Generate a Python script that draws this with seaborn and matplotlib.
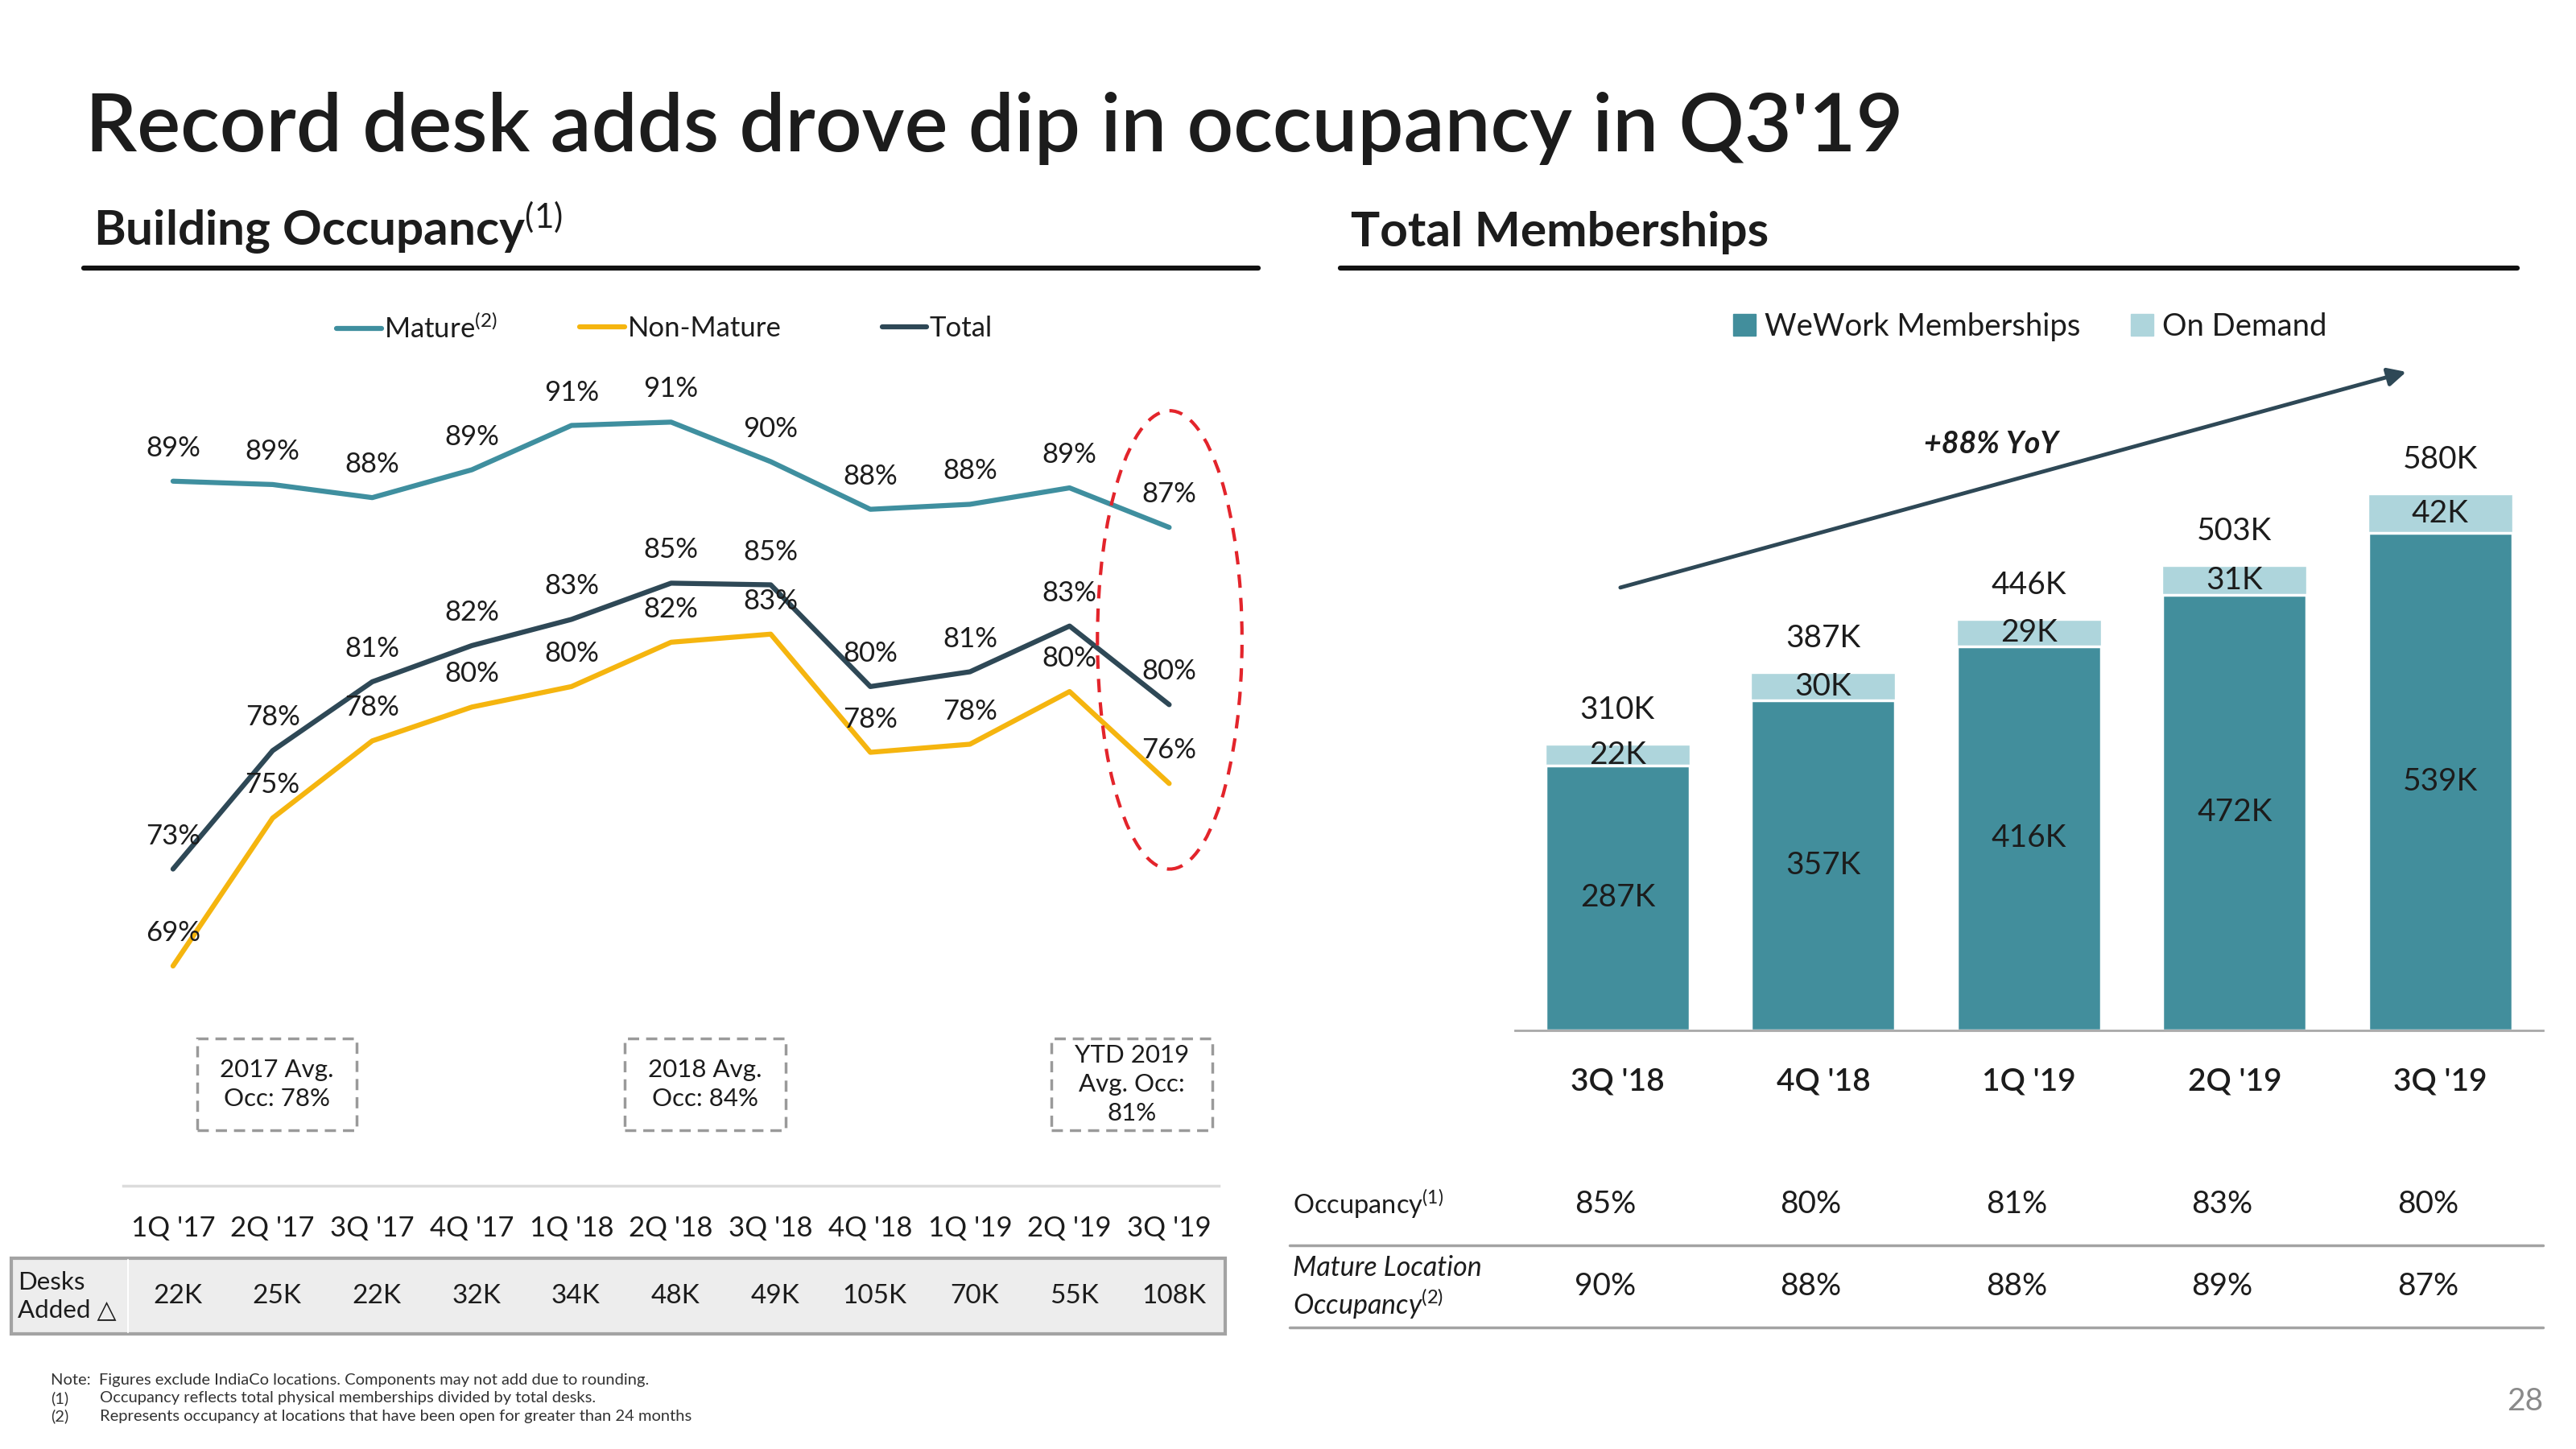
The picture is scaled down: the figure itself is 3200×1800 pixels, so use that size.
import numpy as np
import pandas as pd
import matplotlib
matplotlib.use("Agg")
import matplotlib.pyplot as plt
import seaborn as sns
from matplotlib.lines import Line2D
from matplotlib.patches import Patch, Rectangle, Ellipse, FancyArrowPatch
import matplotlib.transforms as mtrans

# ---------------- data ----------------
quarters = ["1Q '17", "2Q '17", "3Q '17", "4Q '17", "1Q '18", "2Q '18",
            "3Q '18", "4Q '18", "1Q '19", "2Q '19", "3Q '19"]
mature = [88.98, 88.84, 88.29, 89.46, 91.32, 91.46, 89.80, 87.80, 88.01, 88.70, 87.04]
non_mature = [68.63, 74.84, 78.08, 79.50, 80.36, 82.22, 82.56, 77.60, 77.94, 80.15, 76.29]
total = [72.70, 77.67, 80.56, 82.08, 83.18, 84.70, 84.63, 80.36, 80.98, 82.90, 79.60]
mature_lbl = [89, 89, 88, 89, 91, 91, 90, 88, 88, 89, 87]
non_mature_lbl = [69, 75, 78, 80, 80, 82, 83, 78, 78, 80, 76]
total_lbl = [73, 78, 81, 82, 83, 85, 85, 80, 81, 83, 80]
desks_added = ["22K", "25K", "22K", "32K", "34K", "48K", "49K", "105K", "70K", "55K", "108K"]
avg_texts = ["2017 Avg.\nOcc: 78%", "2018 Avg.\nOcc: 84%", "YTD 2019\nAvg. Occ:\n81%"]

bar_quarters = ["3Q '18", "4Q '18", "1Q '19", "2Q '19", "3Q '19"]
wework = [287, 357, 416, 472, 539]
on_demand = [22, 30, 29, 31, 42]
total_members = [310, 387, 446, 503, 580]
occupancy_row = ["85%", "80%", "81%", "83%", "80%"]
mature_row = ["90%", "88%", "88%", "89%", "87%"]

# ---------------- style ----------------
sns.set_theme(style="white")
plt.rcParams["font.family"] = ["Lato", "DejaVu Sans"]
plt.rcParams["mathtext.fontset"] = "custom"
plt.rcParams["mathtext.rm"] = "Lato"
plt.rcParams["mathtext.it"] = "Lato:italic"
plt.rcParams["mathtext.bf"] = "Lato:bold"
plt.rcParams["mathtext.default"] = "rm"

TXT = "#1c1c1c"
C_MAT = "#3f8f9f"
C_NON = "#f5b50f"
C_TOT = "#2e4856"
C_DARK = "#428e9c"
C_LIGHT = "#aed5dc"

W0, H0 = 1568.0, 882.0
def P(x, y):
    return (x / W0, 1 - y / H0)

fig = plt.figure(figsize=(32, 18), dpi=100)
fig.patch.set_facecolor("white")

# ---------------- titles ----------------
fig.text(*P(52, 92), "Record desk adds drove dip in occupancy in Q3'19", fontsize=73,
         fontweight="semibold", color=TXT, ha="left", va="baseline")
fig.text(*P(57, 150), "Building Occupancy$^{(1)}$", fontsize=43.5, fontweight="bold",
         color=TXT, ha="left", va="baseline")
fig.text(*P(822, 150), "Total Memberships", fontsize=43.5, fontweight="bold",
         color=TXT, ha="left", va="baseline")
for x0, x1 in [(51, 766), (816, 1532)]:
    fig.add_artist(Line2D([x0 / W0, x1 / W0], [1 - 163 / H0] * 2, color="#111111",
                          lw=4.5, transform=fig.transFigure))

# ---------------- line chart ----------------
ax1 = fig.add_axes([75 / W0, 1 - 722 / H0, (742 - 75) / W0, (722 - 175) / H0])
df = pd.DataFrame({
    "idx": list(range(11)) * 3,
    "value": mature + non_mature + total,
    "series": ["Mature"] * 11 + ["Non-Mature"] * 11 + ["Total"] * 11,
})
pal = {"Mature": C_MAT, "Non-Mature": C_NON, "Total": C_TOT}
sns.lineplot(data=df, x="idx", y="value", hue="series", palette=pal, lw=4.5,
             sort=False, legend=False, ax=ax1, solid_capstyle="round")
ax1.set_xlim(-0.5, 10.5)
ax1.set_ylim(59.39, 97.11)
for s in ["top", "left", "right"]:
    ax1.spines[s].set_visible(False)
ax1.spines["bottom"].set_color("#dcdcdc")
ax1.spines["bottom"].set_linewidth(2.5)
ax1.set_yticks([])
ax1.set_xticks(range(11))
ax1.set_xticklabels(quarters)
ax1.tick_params(axis="x", length=0, pad=26, labelsize=25, labelcolor=TXT)
ax1.set_xlabel("")
ax1.set_ylabel("")
for vals, lbls in [(mature, mature_lbl), (non_mature, non_mature_lbl), (total, total_lbl)]:
    for i, (v, l) in enumerate(zip(vals, lbls)):
        ax1.annotate(f"{l}%", (i, v), xytext=(0, 29.5), textcoords="offset points",
                     ha="center", va="center", fontsize=25, color=TXT)

# line legend (three separate entries)
for name, lab, xs in [("Mature", "Mature$^{(2)}$", 205), ("Non-Mature", "Non-Mature", 353),
                      ("Total", "Total", 537)]:
    h = Line2D([], [], color=pal[name], lw=4.5, solid_capstyle="round")
    fig.legend(handles=[h], labels=[lab], loc="center left", bbox_to_anchor=P(xs, 200),
               frameon=False, fontsize=25, handlelength=1.6, handletextpad=0.1,
               borderpad=0, borderaxespad=0, labelcolor=TXT)

# average boxes
for (bx0, bx1), t in zip([(120, 217), (380, 478), (640, 738)], avg_texts):
    fig.add_artist(Rectangle(P(bx0, 688), (bx1 - bx0) / W0, 56 / H0, fill=False,
                             ec="#9a9a9a", lw=2.5, ls=(0, (4, 2.5)),
                             transform=fig.transFigure))
    fig.text(*P((bx0 + bx1) / 2, 660), t, ha="center", va="center", fontsize=22.5,
             color=TXT, linespacing=1.35)

# red dashed ellipse
fig.add_artist(Ellipse(P(712, 389.5), 88 / W0, 279 / H0, fill=False, ec="#e3242b",
                       lw=3, ls=(0, (4, 3)), transform=fig.transFigure))

# desks added table
fig.add_artist(Rectangle(P(7, 812), (746 - 7) / W0, 46 / H0, fc="#ededed", ec="#a3a3a3",
                         lw=3, transform=fig.transFigure, zorder=0))
fig.add_artist(Line2D([78 / W0] * 2, [1 - 767 / H0, 1 - 811 / H0], color="white", lw=1.5,
                      transform=fig.transFigure))
fig.text(*P(11, 789), "Desks\nAdded △", ha="left", va="center", fontsize=22.5, color=TXT,
         linespacing=1.3)
blend1 = mtrans.blended_transform_factory(ax1.transData, fig.transFigure)
for i, d in enumerate(desks_added):
    ax1.annotate(d, (i, 1 - 789 / H0), xycoords=blend1, xytext=(4, 0),
                 textcoords="offset points", ha="center", va="center", fontsize=24,
                 color=TXT, annotation_clip=False)

# ---------------- bar chart ----------------
ax2 = fig.add_axes([922 / W0, 1 - 627 / H0, (1548 - 922) / W0, (627 - 180) / H0])
dfb = pd.DataFrame({"quarter": bar_quarters,
                    "stack_top": np.array(wework) + np.array(on_demand),
                    "wework": wework})
sns.barplot(data=dfb, x="quarter", y="stack_top", color=C_LIGHT, saturation=1,
            width=0.7, ax=ax2)
sns.barplot(data=dfb, x="quarter", y="wework", color=C_DARK, saturation=1, width=0.7,
            edgecolor="white", linewidth=2.5, ax=ax2)
ax2.set_xlim(-0.5, 4.5)
ax2.set_ylim(0, 796)
for s in ["top", "left", "right"]:
    ax2.spines[s].set_visible(False)
ax2.spines["bottom"].set_color("#a8a8a8")
ax2.spines["bottom"].set_linewidth(2)
ax2.set_yticks([])
ax2.set_xlabel("")
ax2.set_ylabel("")
ax2.tick_params(axis="x", length=0, pad=33, labelsize=28, labelcolor=TXT)
for lab in ax2.get_xticklabels():
    lab.set_fontweight("semibold")
for i in range(5):
    ax2.text(i, wework[i] / 2, f"{wework[i]}K", ha="center", va="center", fontsize=28,
             color=TXT)
    ax2.text(i, wework[i] + on_demand[i] / 2, f"{on_demand[i]}K", ha="center",
             va="center", fontsize=28, color=TXT)
    ax2.annotate(f"{total_members[i]}K", (i, wework[i] + on_demand[i]), xytext=(0, 31),
                 textcoords="offset points", ha="center", va="center", fontsize=28,
                 color=TXT)

fig.legend(handles=[Patch(color=C_DARK), Patch(color=C_LIGHT)],
           labels=["WeWork Memberships", "On Demand"], loc="center left",
           bbox_to_anchor=P(1055, 199), ncol=2, frameon=False, fontsize=27.5,
           handlelength=0.72, handleheight=0.72, handletextpad=0.3, columnspacing=1.65,
           borderpad=0, borderaxespad=0, labelcolor=TXT)

# growth arrow
fig.add_artist(FancyArrowPatch(
    P(985, 358), P(1466, 226), transform=fig.transFigure,
    arrowstyle="-|>,head_length=9,head_width=4.5",
    color=C_TOT, lw=3.5, mutation_scale=1.5))
fig.text(*P(1212, 270), "+88% YoY", ha="center", va="center", fontsize=27,
         fontweight="bold", fontstyle="italic", color=TXT)

# right table
blend2 = mtrans.blended_transform_factory(ax2.transData, fig.transFigure)
fig.text(*P(787, 733), "Occupancy$^{(1)}$", ha="left", va="center", fontsize=23.5, color=TXT)
fig.text(*P(787, 784), "Mature Location\nOccupancy$^{(2)}$", ha="left", va="center",
         fontsize=24.5, fontstyle="italic", color=TXT, linespacing=1.2)
for i in range(5):
    ax2.annotate(occupancy_row[i], (i, 1 - 733 / H0), xycoords=blend2, xytext=(-11, 0),
                 textcoords="offset points", ha="center", va="center", fontsize=28,
                 color=TXT, annotation_clip=False)
    ax2.annotate(mature_row[i], (i, 1 - 783 / H0), xycoords=blend2, xytext=(-11, 0),
                 textcoords="offset points", ha="center", va="center", fontsize=28,
                 color=TXT, annotation_clip=False)
for yy in [758, 808]:
    fig.add_artist(Line2D([785 / W0, 1548 / W0], [1 - yy / H0] * 2, color="#a3a3a3",
                          lw=2.5, transform=fig.transFigure))

# notes
NFS = 14.5
fig.text(*P(31, 840), "Note:  Figures exclude IndiaCo locations. Components may not add due to rounding.",
         ha="left", va="center", fontsize=NFS, color="#333333")
fig.text(*P(31, 851), "(1)", ha="left", va="center", fontsize=NFS, color="#333333")
fig.text(*P(61, 851), "Occupancy reflects total physical memberships divided by total desks.",
         ha="left", va="center", fontsize=NFS, color="#333333")
fig.text(*P(31, 862), "(2)", ha="left", va="center", fontsize=NFS, color="#333333")
fig.text(*P(61, 862), "Represents occupancy at locations that have been open for greater than 24 months",
         ha="left", va="center", fontsize=NFS, color="#333333")
fig.text(*P(1548, 853), "28", ha="right", va="center", fontsize=28, color="#8a8a8a")

fig.savefig("out.png", dpi=100, facecolor="white")
